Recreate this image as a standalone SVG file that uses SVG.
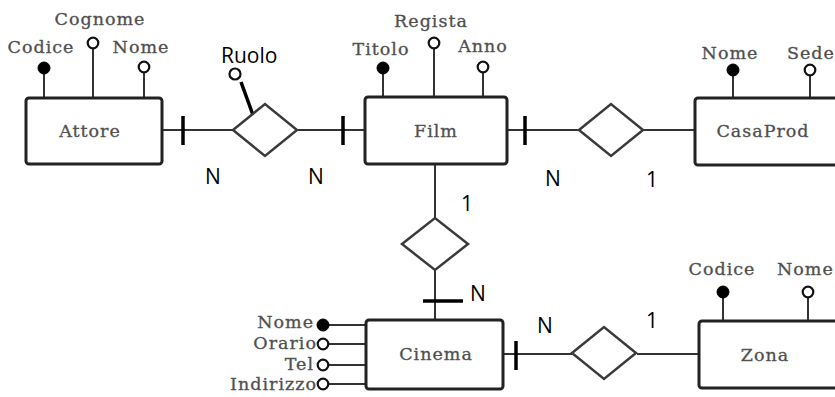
<svg xmlns="http://www.w3.org/2000/svg" width="835" height="397" viewBox="0 0 835 397">
<style>
.ent{fill:#fff;stroke:#222;stroke-width:3}
.rel{fill:#fff;stroke:#3a3a3a;stroke-width:2.5}
.ln{stroke:#333;stroke-width:2;fill:none}
.tk{stroke:#000;stroke-width:3.5}
.kf{fill:#000;stroke:#000;stroke-width:1}
.ko{fill:#fff;stroke:#111;stroke-width:2.2}
.g{font-family:"DejaVu Serif","Liberation Serif",serif;font-size:17.5px;fill:#4d4d4d;stroke:#5a5a5a;stroke-width:0.35;letter-spacing:1px}
.en{font-family:"DejaVu Serif","Liberation Serif",serif;font-size:17.5px;fill:#4d4d4d;stroke:#5a5a5a;stroke-width:0.35;letter-spacing:1px;text-anchor:middle;dominant-baseline:central}
.c{font-family:"Open Sans","Noto Sans",sans-serif;font-size:21px;fill:#000}
.m{text-anchor:middle}
.e{text-anchor:end}
</style>
<rect width="835" height="397" fill="#fff"/>
<g id="connectors">
<line class="ln" x1="162" y1="130" x2="233" y2="130"/>
<line class="tk" x1="183" y1="116" x2="183" y2="145"/>
<line class="ln" x1="297" y1="130" x2="365" y2="130"/>
<line class="tk" x1="343" y1="116" x2="343" y2="145"/>
<line class="ln" x1="507" y1="130" x2="579" y2="130"/>
<line class="tk" x1="525" y1="116" x2="525" y2="145"/>
<line class="ln" x1="643" y1="130" x2="695" y2="130"/>
<line class="ln" x1="435" y1="164" x2="435" y2="218"/>
<line class="ln" x1="435" y1="270" x2="435" y2="320"/>
<line class="tk" x1="423" y1="301" x2="463" y2="301"/>
<line class="ln" x1="503" y1="354" x2="572" y2="354"/>
<line class="tk" x1="516" y1="341" x2="516" y2="370"/>
<line class="ln" x1="637" y1="354" x2="699" y2="354"/>
<text class="c" x="205" y="184">N</text>
<text class="c" x="308" y="184">N</text>
<text class="c" x="545" y="186">N</text>
<text class="c" x="646" y="187">1</text>
<text class="c" x="461" y="211">1</text>
<text class="c" x="470" y="301">N</text>
<text class="c" x="537" y="333">N</text>
<text class="c" x="646" y="328">1</text>
</g>
<g id="Attore">
<line class="ln" x1="44" y1="68" x2="44" y2="98"/>
<line class="ln" x1="93" y1="43" x2="93" y2="98"/>
<line class="ln" x1="144" y1="67" x2="144" y2="98"/>
<circle class="kf" cx="44" cy="68" r="6"/>
<circle class="ko" cx="93" cy="43" r="5.3"/>
<circle class="ko" cx="144" cy="67" r="5.3"/>
<text class="g m" x="41" y="53">Codice</text>
<text class="g m" x="100" y="25">Cognome</text>
<text class="g m" x="141" y="53">Nome</text>
<rect class="ent" x="26" y="98" width="136" height="66" rx="3"/>
<text class="en" x="90" y="131">Attore</text>
</g>
<g id="Recita">
<line x1="241" y1="82" x2="253" y2="115" stroke="#000" stroke-width="3.5"/>
<circle class="ko" cx="235" cy="74" r="5.5"/>
<text class="c" x="221" y="63" font-size="22">Ruolo</text>
<polygon class="rel" points="233,130 265,104 297,130 265,156"/>
</g>
<g id="Film">
<line class="ln" x1="383" y1="68" x2="383" y2="97"/>
<line class="ln" x1="434" y1="43" x2="434" y2="97"/>
<line class="ln" x1="483" y1="67" x2="483" y2="97"/>
<circle class="kf" cx="383" cy="68" r="6"/>
<circle class="ko" cx="434" cy="43" r="5.3"/>
<circle class="ko" cx="483" cy="67" r="5.3"/>
<text class="g m" x="381" y="55">Titolo</text>
<text class="g m" x="431" y="27">Regista</text>
<text class="g m" x="483" y="52">Anno</text>
<rect class="ent" x="365" y="97" width="142" height="67" rx="3"/>
<text class="en" x="436" y="131">Film</text>
</g>
<g id="Produce">
<polygon class="rel" points="579,130 611,104 643,130 611,156"/>
</g>
<g id="CasaProd">
<line class="ln" x1="733" y1="70" x2="733" y2="98"/>
<line class="ln" x1="810" y1="70" x2="810" y2="98"/>
<circle class="kf" cx="733" cy="70" r="6"/>
<circle class="ko" cx="810" cy="70" r="5.3"/>
<text class="g m" x="730" y="59">Nome</text>
<text class="g" x="787" y="59">Sede</text>
<rect class="ent" x="695" y="98" width="150" height="67" rx="3"/>
<text class="en" x="763" y="131">CasaProd</text>
</g>
<g id="Proietta">
<polygon class="rel" points="402,244 435,218 468,244 435,270"/>
</g>
<g id="Cinema">
<line class="ln" x1="323" y1="325" x2="366" y2="325"/>
<line class="ln" x1="323" y1="344" x2="366" y2="344"/>
<line class="ln" x1="323" y1="365" x2="366" y2="365"/>
<line class="ln" x1="323" y1="384" x2="366" y2="384"/>
<circle class="kf" cx="323" cy="325" r="6"/>
<circle class="ko" cx="323" cy="344" r="5.3"/>
<circle class="ko" cx="323" cy="365" r="5.3"/>
<circle class="ko" cx="323" cy="384" r="5.3"/>
<text class="g e" x="314" y="328">Nome</text>
<text class="g e" x="317" y="349">Orario</text>
<text class="g e" x="314" y="370">Tel</text>
<text class="g e" x="317" y="390">Indirizzo</text>
<rect class="ent" x="366" y="320" width="137" height="69" rx="3"/>
<text class="en" x="436" y="354">Cinema</text>
</g>
<g id="Ubicato">
<polygon class="rel" points="572,353 604,327 636,353 604,379"/>
</g>
<g id="Zona">
<line class="ln" x1="723" y1="292" x2="723" y2="321"/>
<line class="ln" x1="808" y1="292" x2="808" y2="321"/>
<circle class="kf" cx="723" cy="292" r="6"/>
<circle class="ko" cx="808" cy="292" r="5.3"/>
<text class="g m" x="722" y="275">Codice</text>
<text class="g" x="777" y="275">Nome</text>
<rect class="ent" x="699" y="321" width="146" height="67" rx="3"/>
<text class="en" x="765" y="355">Zona</text>
</g>
</svg>
